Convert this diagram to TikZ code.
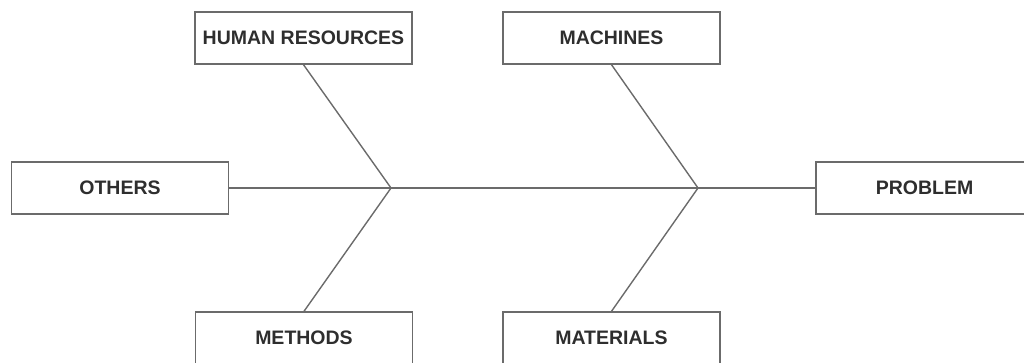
\documentclass[tikz,border=0pt]{standalone}
\usepackage{fontspec}
\setmainfont{Liberation Sans}
\begin{document}
\begin{tikzpicture}[x=1pt,y=-1pt,
  ln/.style={draw=black!58,line width=1.4pt},
  cause/.style={ln,fill=white,rectangle,minimum width=217pt,minimum height=52pt,inner sep=0pt,
     font=\fontsize{19.5}{22}\selectfont\bfseries,text=black!82}]
\useasboundingbox (0,0) rectangle (1024,363);
\clip (0,0) rectangle (1024,363);
\node[cause] (hr) at (303.5,38) {HUMAN RESOURCES};
\node[cause] (mach) at (611.5,38) {MACHINES};
\node[cause] (oth) at (120,188) {OTHERS};
\node[cause] (prob) at (924.5,188) {PROBLEM};
\node[cause] (meth) at (304,338) {METHODS};
\node[cause] (mat) at (611.5,338) {MATERIALS};
\coordinate (j1) at (391,188);
\coordinate (j2) at (698,188);
\draw[ln] (oth.east) -- (j1) -- (j2) -- (prob.west);
\draw[ln] (hr.south) -- (j1) -- (meth.north);
\draw[ln] (mach.south) -- (j2) -- (mat.north);
\end{tikzpicture}
\end{document}
